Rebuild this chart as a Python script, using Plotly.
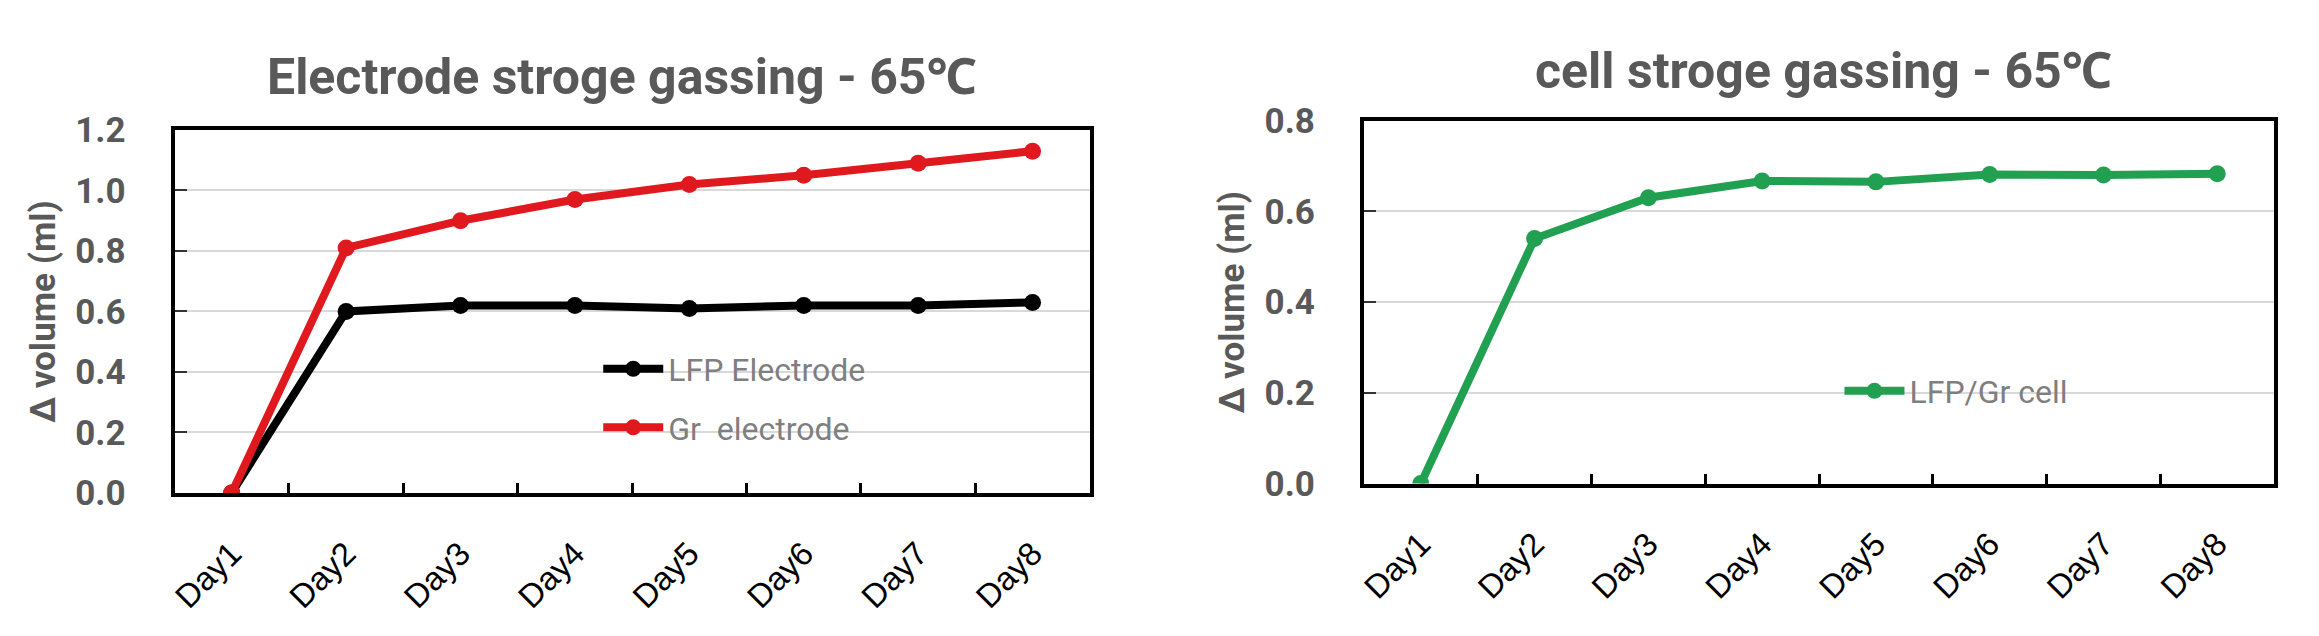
import plotly.graph_objects as go

# --- data ---
days = ["Day1", "Day2", "Day3", "Day4", "Day5", "Day6", "Day7", "Day8"]
lfp_electrode = [0.0, 0.60, 0.62, 0.62, 0.61, 0.62, 0.62, 0.63]
gr_electrode = [0.0, 0.81, 0.90, 0.97, 1.02, 1.05, 1.09, 1.13]
lfp_gr_cell = [0.0, 0.54, 0.63, 0.667, 0.665, 0.681, 0.68, 0.683]

left_ticks = [0.0, 0.2, 0.4, 0.6, 0.8, 1.0, 1.2]
right_ticks = [0.0, 0.2, 0.4, 0.6, 0.8]

W, H = 2319, 636
GRAY = "#595959"
TITLE_FONT = "Roboto, 'Noto Sans', sans-serif"
C_RED = "#e0191e"
C_BLACK = "#000000"
C_GREEN = "#21a052"

fig = go.Figure()

fig.add_trace(go.Scatter(
    x=days, y=lfp_electrode, mode="lines+markers", name="LFP Electrode",
    line=dict(color=C_BLACK, width=8), marker=dict(size=17, color=C_BLACK),
    xaxis="x", yaxis="y", legend="legend", legendgroup="a"
))
fig.add_trace(go.Scatter(
    x=days, y=gr_electrode, mode="lines+markers", name="Gr  electrode",
    line=dict(color=C_RED, width=8), marker=dict(size=17, color=C_RED),
    xaxis="x", yaxis="y", legend="legend", legendgroup="b"
))
fig.add_trace(go.Scatter(
    x=days, y=lfp_gr_cell, mode="lines+markers", name="LFP/Gr cell",
    line=dict(color=C_GREEN, width=8), marker=dict(size=17, color=C_GREEN),
    xaxis="x2", yaxis="y2", legend="legend2"
))

xcommon = dict(
    type="category", range=[-0.5, 7.5], showline=True, mirror=True,
    linecolor="black", linewidth=4, ticks="inside", tickson="boundaries",
    ticklen=10, tickwidth=3, tickcolor="black", tickangle=-45,
    ticklabelstandoff=24, showgrid=False, zeroline=False,
    tickfont=dict(family="'Liberation Sans', Arial, sans-serif", size=33, color="black"),
)
ycommon = dict(
    showline=True, mirror=True, linecolor="black", linewidth=4,
    ticks="inside", ticklen=12, tickwidth=2, tickcolor="#333333",
    showgrid=True, gridcolor="#d9d9d9", gridwidth=2, zeroline=False,
    tickformat=".1f", ticklabelstandoff=38,
    tickfont=dict(family=TITLE_FONT, size=35, color=GRAY, weight="bold"),
    title=dict(text="Δ volume (ml)", standoff=10,
               font=dict(family=TITLE_FONT, size=35, color=GRAY, weight="bold")),
)

fig.update_layout(
    width=W, height=H,
    margin=dict(l=0, r=0, t=0, b=0),
    plot_bgcolor="white", paper_bgcolor="white",
    xaxis=dict(domain=[160 / W, 1078 / W], anchor="y", **xcommon),
    yaxis=dict(domain=[(H - 497) / H, (H - 109) / H], anchor="x",
               range=[0, 1.2], tickvals=left_ticks, **ycommon),
    xaxis2=dict(domain=[1353 / W, 2266 / W], anchor="y2", **xcommon),
    yaxis2=dict(domain=[(H - 487) / H, (H - 99) / H], anchor="x2",
                range=[0, 0.8], tickvals=right_ticks, **ycommon),
    legend=dict(
        x=585 / W, y=(H - 396) / H, xanchor="left", yanchor="middle",
        bgcolor="rgba(0,0,0,0)", traceorder="grouped", tracegroupgap=14,
        itemwidth=60,
        font=dict(family=TITLE_FONT, size=32, color="#7f7f7f"),
    ),
    legend2=dict(
        x=1830 / W, y=(H - 388) / H, xanchor="left", yanchor="middle",
        bgcolor="rgba(0,0,0,0)", itemwidth=60,
        font=dict(family=TITLE_FONT, size=32, color="#7f7f7f"),
    ),
    annotations=[
        dict(text="<b>Electrode stroge gassing - 65℃</b>", x=609 / W, y=(H - 52) / H,
             xref="paper", yref="paper", showarrow=False,
             xanchor="center", yanchor="middle",
             font=dict(family=TITLE_FONT, size=50, color=GRAY)),
        dict(text="<b>cell stroge gassing - 65℃</b>", x=1814 / W, y=(H - 46) / H,
             xref="paper", yref="paper", showarrow=False,
             xanchor="center", yanchor="middle",
             font=dict(family=TITLE_FONT, size=50, color=GRAY)),
    ],
)

fig.write_html("out.html")
